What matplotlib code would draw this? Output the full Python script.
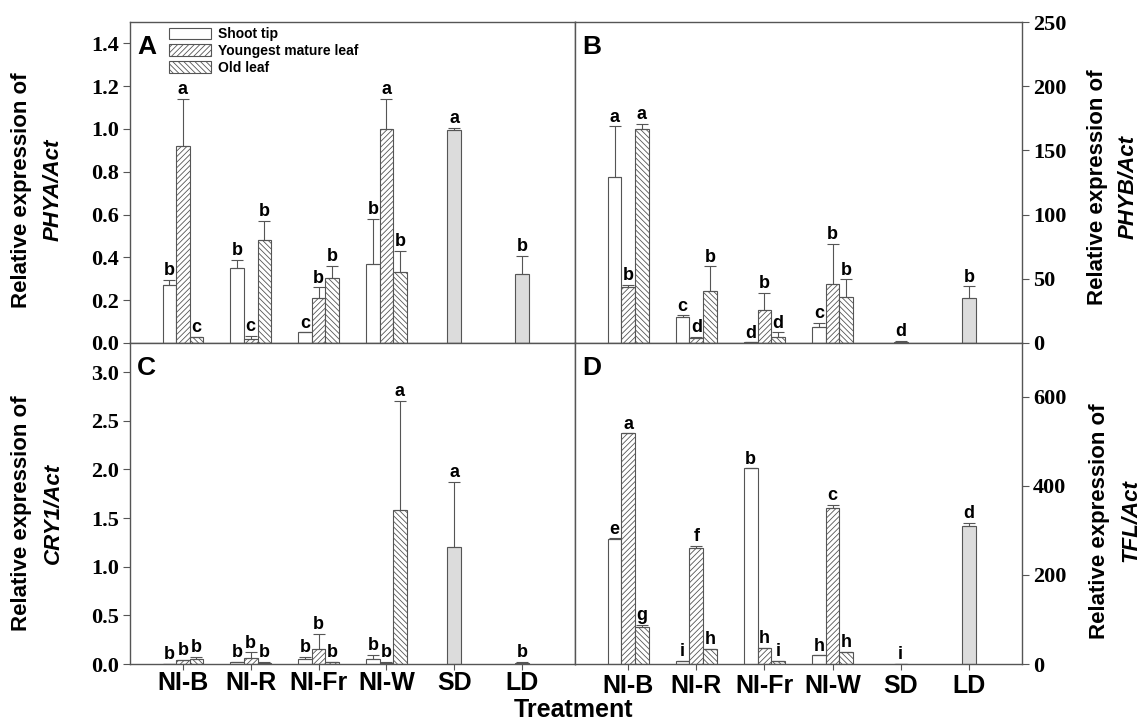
import matplotlib
matplotlib.use('Agg')
import matplotlib.pyplot as plt
import numpy as np

plt.rcParams['font.family'] = ['Liberation Sans', 'DejaVu Sans']
plt.rcParams['hatch.linewidth'] = 0.6

treatments = ['NI-B', 'NI-R', 'NI-Fr', 'NI-W', 'SD', 'LD']
tissues = ['Shoot tip', 'Youngest mature leaf', 'Old leaf']

# rows: shoot tip, youngest mature leaf, old leaf; columns: NI-B, NI-R, NI-Fr, NI-W
phya_vals = [[0.27, 0.35, 0.05, 0.37], [0.92, 0.02, 0.21, 1.00], [0.03, 0.48, 0.305, 0.33]]
phya_err = [[0.025, 0.04, 0.0, 0.21], [0.22, 0.015, 0.05, 0.14], [0.0, 0.09, 0.055, 0.10]]
phya_let = [['b', 'b', 'c', 'b'], ['a', 'c', 'b', 'a'], ['c', 'b', 'b', 'b']]
phya_ctrl = [0.997, 0.324]
phya_ctrl_err = [0.009, 0.084]
phya_ctrl_let = ['a', 'b']

phyb_vals = [[129.5, 20.2, 0.5, 12.2], [43.6, 4.1, 26.0, 46.2], [166.9, 40.2, 4.7, 35.8]]
phyb_err = [[39.3, 1.4, 0.0, 3.6], [1.6, 0.6, 12.9, 30.9], [3.9, 19.5, 3.6, 13.8]]
phyb_let = [['a', 'c', 'd', 'c'], ['b', 'd', 'b', 'b'], ['a', 'b', 'd', 'b']]
phyb_ctrl = [0.8, 35.3]
phyb_ctrl_err = [0.8, 8.9]
phyb_ctrl_let = ['d', 'b']

cry1_vals = [[0.005, 0.02, 0.051, 0.048], [0.041, 0.065, 0.157, 0.014], [0.048, 0.014, 0.017, 1.585]]
cry1_err = [[0.0, 0.005, 0.021, 0.048], [0.005, 0.055, 0.151, 0.006], [0.027, 0.006, 0.005, 1.123]]
cry1_let = [['b', 'b', 'b', 'b'], ['b', 'b', 'b', 'b'], ['b', 'b', 'b', 'a']]
cry1_ctrl = [1.198, 0.014]
cry1_ctrl_err = [0.675, 0.006]
cry1_ctrl_let = ['a', 'b']

tfl_vals = [[279.3, 7.5, 438.9, 19.5], [517.5, 260.7, 36.0, 349.0], [83.8, 34.4, 7.5, 27.7]]
tfl_err = [[2.3, 0.0, 0.0, 0.0], [0.0, 3.7, 0.0, 8.0], [3.8, 0.0, 0.0, 0.0]]
tfl_let = [['e', 'i', 'b', 'h'], ['a', 'f', 'h', 'c'], ['g', 'h', 'i', 'h']]
tfl_ctrl = [0.5, 310.0]
tfl_ctrl_err = [0.0, 6.0]
tfl_ctrl_let = ['i', 'd']

EDGE = '#555555'
hatches = ['', '//////', '\\\\\\\\\\\\']
W = 0.2


def draw_panel(ax, vals, err, lets, ctrl, ctrl_err, ctrl_let):
    x = np.arange(4)
    for k in range(3):
        xs = x + (k - 1) * W
        ax.bar(xs, vals[k], W, color='white', edgecolor=EDGE, hatch=hatches[k],
               linewidth=0.8, label=tissues[k], zorder=2)
        ax.errorbar(xs, vals[k], yerr=[np.zeros(4), err[k]], fmt='none', ecolor=EDGE,
                    elinewidth=0.8, capsize=4, capthick=0.8, zorder=3)
        for xi, v, e, l in zip(xs, vals[k], err[k], lets[k]):
            ax.annotate(l, (xi, v + e), xytext=(0, 0.5), textcoords='offset points',
                        ha='center', va='bottom', fontsize=13, fontweight='bold')
    xc = np.array([4, 5])
    ax.bar(xc, ctrl, W, color='#dcdcdc', edgecolor=EDGE, linewidth=0.8, zorder=2)
    ax.errorbar(xc, ctrl, yerr=[np.zeros(2), ctrl_err], fmt='none', ecolor=EDGE,
                elinewidth=0.8, capsize=4, capthick=0.8, zorder=3)
    for xi, v, e, l in zip(xc, ctrl, ctrl_err, ctrl_let):
        ax.annotate(l, (xi, v + e), xytext=(0, 0.5), textcoords='offset points',
                    ha='center', va='bottom', fontsize=13, fontweight='bold')
    for s in ax.spines.values():
        s.set_color(EDGE)
        s.set_linewidth(1.0)
    ax.tick_params(axis='y', direction='out', length=5, color=EDGE, width=0.8, pad=3)
    for t in ax.get_yticklabels():
        t.set_fontfamily('Liberation Serif')
        t.set_fontweight('bold')
        t.set_fontsize(16)


fig = plt.figure(figsize=(11.43, 7.25), dpi=100)
xl, xm, xr = 130 / 1143, 575 / 1143, 1022 / 1143
yt, ym, yb = 1 - 22 / 725, 1 - 343 / 725, 1 - 664 / 725
axA = fig.add_axes([xl, ym, xm - xl, yt - ym])
axB = fig.add_axes([xm, ym, xr - xm, yt - ym])
axC = fig.add_axes([xl, yb, xm - xl, ym - yb])
axD = fig.add_axes([xm, yb, xr - xm, ym - yb])

axA.set_ylim(0, 1.5)
axA.set_yticks(np.arange(0, 1.41, 0.2))
axA.set_yticklabels(['%.1f' % v for v in np.arange(0, 1.41, 0.2)])
axB.set_ylim(0, 250)
axB.set_yticks(np.arange(0, 251, 50))
axC.set_ylim(0, 3.3)
axC.set_yticks(np.arange(0, 3.01, 0.5))
axC.set_yticklabels(['%.1f' % v for v in np.arange(0, 3.01, 0.5)])
axD.set_ylim(0, 720)
axD.set_yticks([0, 200, 400, 600])
axB.yaxis.tick_right()
axD.yaxis.tick_right()

draw_panel(axA, phya_vals, phya_err, phya_let, phya_ctrl, phya_ctrl_err, phya_ctrl_let)
draw_panel(axB, phyb_vals, phyb_err, phyb_let, phyb_ctrl, phyb_ctrl_err, phyb_ctrl_let)
draw_panel(axC, cry1_vals, cry1_err, cry1_let, cry1_ctrl, cry1_ctrl_err, cry1_ctrl_let)
draw_panel(axD, tfl_vals, tfl_err, tfl_let, tfl_ctrl, tfl_ctrl_err, tfl_ctrl_let)

for ax in (axA, axB, axC, axD):
    ax.set_xlim(-0.78, 5.78)
    ax.set_xticks(np.arange(6))
for ax in (axA, axB):
    ax.tick_params(axis='x', length=0, labelbottom=False)
for ax, pad in ((axC, 1), (axD, 3)):
    ax.set_xticklabels(treatments, fontsize=18, fontweight='bold')
    ax.tick_params(axis='x', direction='out', length=4, color=EDGE, width=0.8, pad=pad)

for ax, letter in ((axA, 'A'), (axB, 'B'), (axC, 'C'), (axD, 'D')):
    ax.text(0.016, 0.96, letter, transform=ax.transAxes, fontsize=19, fontweight='bold',
            ha='left', va='top')

axA.legend(loc='upper left', bbox_to_anchor=(0.07, 1.01), frameon=False,
           handlelength=3.0, handleheight=0.9, labelspacing=0.2, handletextpad=0.5,
           borderaxespad=0.2, prop={'weight': 'bold', 'size': 10})

# y labels: plain first line, italic gene name on the second
def ylabel(x1, x2, y, gene):
    fig.text(x1, y, 'Relative expression of', rotation=90, ha='center', va='center',
             fontsize=16, fontweight='bold')
    fig.text(x2, y, gene, rotation=90, ha='center', va='center', fontsize=16,
             fontweight='bold', fontstyle='italic')

ylabel(22 / 1143, 53 / 1143, 1 - 190 / 725, 'PHYA/Act')
ylabel(22 / 1143, 53 / 1143, 1 - 513 / 725, 'CRY1/Act')
ylabel(1098 / 1143, 1128 / 1143, 1 - 187 / 725, 'PHYB/Act')
ylabel(1100 / 1143, 1131 / 1143, 1 - 521 / 725, 'TFL/Act')

fig.text(573 / 1143, 1 - 717 / 725, 'Treatment', ha='center', va='baseline', fontsize=18,
         fontweight='bold')

fig.savefig('out.png', dpi=100)
